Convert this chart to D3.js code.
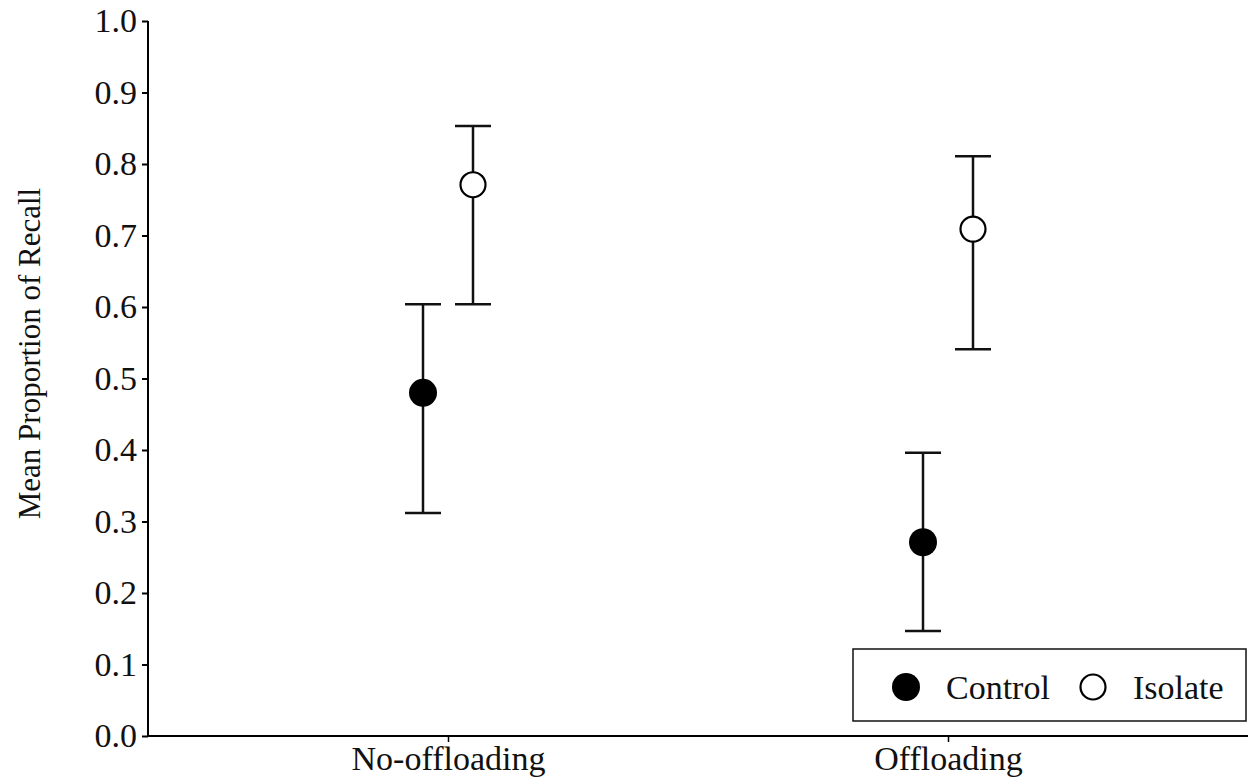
<!DOCTYPE html>
<html>
<head>
<meta charset="utf-8">
<script src="https://cdn.jsdelivr.net/npm/d3@7"></script>
<style>
  html, body { margin: 0; padding: 0; background: #fff; }
  svg { display: block; font-family: "Liberation Serif", "Times New Roman", serif; }
</style>
</head>
<body>
<div id="chart"></div>
<script>
// data
const conditions = ['No-offloading', 'Offloading']
const groups = ['Control', 'Isolate']
const controlMean = [0.48, 0.271]
const controlLow = [0.312, 0.147]
const controlHigh = [0.604, 0.396]
const isolateMean = [0.771, 0.709]
const isolateLow = [0.604, 0.541]
const isolateHigh = [0.853, 0.811]
const yTicks = [0, 0.1, 0.2, 0.3, 0.4, 0.5, 0.6, 0.7, 0.8, 0.9, 1.0]

const width = 1248
const height = 780
const margin = { top: 21, right: 0, bottom: 44, left: 148 }

const svg = d3.select('#chart')
  .append('svg')
  .attr('width', width)
  .attr('height', height)

const x = d3.scalePoint()
  .domain(conditions)
  .range([margin.left, width - margin.right])
  .padding(0.6)

const y = d3.scaleLinear()
  .domain([0, 1])
  .range([height - margin.bottom, margin.top])

const offset = d3.scalePoint()
  .domain(groups)
  .range([-25, 25])

// build rows from the arrays
const rows = []
conditions.forEach((c, i) => {
  rows.push({ cond: c, group: 'Control', mean: controlMean[i], lo: controlLow[i], hi: controlHigh[i] })
  rows.push({ cond: c, group: 'Isolate', mean: isolateMean[i], lo: isolateLow[i], hi: isolateHigh[i] })
})

// axes
const yAxis = svg.append('g')
  .attr('transform', `translate(${margin.left},0)`)
  .call(d3.axisLeft(y).tickValues(yTicks).tickFormat(d3.format('.1f')).tickSize(6).tickPadding(5))
yAxis.select('.domain').attr('stroke', '#000').attr('stroke-width', 2).attr('d', `M0,${y(1)}V${y(0)}`)
yAxis.selectAll('.tick line').attr('stroke', '#000').attr('stroke-width', 2)
yAxis.selectAll('.tick text')
  .attr('font-size', 34)
  .attr('fill', '#111')
  .attr('font-family', '"Liberation Serif", serif')

const xAxis = svg.append('g')
  .attr('transform', `translate(0,${y(0)})`)
  .call(d3.axisBottom(x).tickSize(6).tickPadding(4))
xAxis.select('.domain').attr('stroke', '#000').attr('stroke-width', 2).attr('d', `M${margin.left},0H${width}`)
xAxis.selectAll('.tick line').attr('stroke', '#000').attr('stroke-width', 1.5)
xAxis.selectAll('.tick text')
  .attr('font-size', 34)
  .attr('fill', '#111')
  .attr('font-family', '"Liberation Serif", serif')

// y axis title
svg.append('text')
  .attr('transform', `translate(40,${(y(0) + y(1)) / 2 - 25}) rotate(-90)`)
  .attr('text-anchor', 'middle')
  .attr('font-size', 31)
  .attr('fill', '#111')
  .text('Mean Proportion of Recall')

// error bars
const capHalf = 18
const bars = svg.append('g')
  .selectAll('g')
  .data(rows)
  .enter().append('g')
  .attr('stroke', '#111')
  .attr('stroke-width', 2.5)

bars.append('line')
  .attr('x1', d => x(d.cond) + offset(d.group))
  .attr('x2', d => x(d.cond) + offset(d.group))
  .attr('y1', d => y(d.lo))
  .attr('y2', d => y(d.hi))

bars.append('line')
  .attr('x1', d => x(d.cond) + offset(d.group) - capHalf)
  .attr('x2', d => x(d.cond) + offset(d.group) + capHalf)
  .attr('y1', d => y(d.hi))
  .attr('y2', d => y(d.hi))

bars.append('line')
  .attr('x1', d => x(d.cond) + offset(d.group) - capHalf)
  .attr('x2', d => x(d.cond) + offset(d.group) + capHalf)
  .attr('y1', d => y(d.lo))
  .attr('y2', d => y(d.lo))

// points
svg.append('g')
  .selectAll('circle')
  .data(rows)
  .enter().append('circle')
  .attr('cx', d => x(d.cond) + offset(d.group))
  .attr('cy', d => y(d.mean))
  .attr('r', d => d.group === 'Control' ? 14 : 12.5)
  .attr('fill', d => d.group === 'Control' ? '#000' : '#fff')
  .attr('stroke', '#000')
  .attr('stroke-width', d => d.group === 'Control' ? 0 : 2.2)

// legend
const legend = svg.append('g').attr('transform', 'translate(853,649)')
legend.append('rect')
  .attr('width', 393)
  .attr('height', 72)
  .attr('fill', '#fff')
  .attr('stroke', '#111')
  .attr('stroke-width', 1.5)

const legendX = [53, 240]
groups.forEach((grp, i) => {
  legend.append('circle')
    .attr('cx', legendX[i])
    .attr('cy', 38)
    .attr('r', grp === 'Control' ? 14 : 12.5)
    .attr('fill', grp === 'Control' ? '#000' : '#fff')
    .attr('stroke', '#000')
    .attr('stroke-width', grp === 'Control' ? 0 : 2.2)
  legend.append('text')
    .attr('x', legendX[i] + 40)
    .attr('y', 38)
    .attr('dy', '0.35em')
    .attr('font-size', 34)
    .attr('fill', '#111')
    .text(grp)
})
</script>
</body>
</html>
